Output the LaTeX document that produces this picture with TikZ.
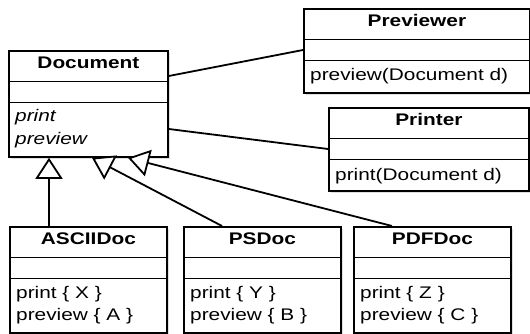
\documentclass[tikz,border=0pt]{standalone}
\usepackage{fontspec}
\setmainfont{Liberation Sans}[FakeStretch=1.24]
\usetikzlibrary{arrows.meta,calc,shadows}
\begin{document}
\begin{tikzpicture}[x=1pt,y=-1pt,
  umlbox/.style={draw=black, fill=white, line width=1.8pt, inner sep=0pt, anchor=north west,
    drop shadow={opacity=0.25, shadow xshift=2.5pt, shadow yshift=-2.5pt}},
  cname/.style={font=\fontsize{16.8}{23}\selectfont\bfseries, anchor=base, inner sep=0pt},
  mtext/.style={font=\fontsize{16.8}{23}\selectfont, anchor=base west, inner sep=0pt},
  sep/.style={line width=1.8pt},
  assoc/.style={line width=1.8pt},
  inherit/.style={line width=1.8pt, -{Triangle[length=21pt,width=27pt,fill=white]}}
]
\useasboundingbox (0,0) rectangle (530,334);

% Document
\node[umlbox, minimum width=159pt, minimum height=106pt] (doc) at (8,50) {};
\draw[sep] ($(doc.north west)+(0,31.5)$) -- ($(doc.north east)+(0,31.5)$);
\draw[sep] ($(doc.north west)+(0,52.5)$) -- ($(doc.north east)+(0,52.5)$);
\node[cname] (docname) at ($(doc.north)+(0,18.5)$) {Document};
\node[mtext] (docm1) at ($(doc.north west)+(7,72)$) {\itshape print};
\node[mtext] (docm2) at ($(doc.north west)+(7,94.5)$) {\itshape preview};

% Previewer
\node[umlbox, minimum width=226pt, minimum height=84pt] (prev) at (303,8) {};
\draw[sep] ($(prev.north west)+(0,31.5)$) -- ($(prev.north east)+(0,31.5)$);
\draw[sep] ($(prev.north west)+(0,52.5)$) -- ($(prev.north east)+(0,52.5)$);
\node[cname] (prevname) at ($(prev.north)+(0,18.5)$) {Previewer};
\node[mtext] (prevm1) at ($(prev.north west)+(7,73)$) {preview(Document d)};

% Printer
\node[umlbox, minimum width=200pt, minimum height=83pt] (prn) at (328,107) {};
\draw[sep] ($(prn.north west)+(0,31.5)$) -- ($(prn.north east)+(0,31.5)$);
\draw[sep] ($(prn.north west)+(0,52.5)$) -- ($(prn.north east)+(0,52.5)$);
\node[cname] (prnname) at ($(prn.north)+(0,18.5)$) {Printer};
\node[mtext] (prnm1) at ($(prn.north west)+(7,73.5)$) {print(Document d)};

% ASCIIDoc
\node[umlbox, minimum width=157pt, minimum height=106pt] (ascii) at (9,226) {};
\draw[sep] ($(ascii.north west)+(0,31.5)$) -- ($(ascii.north east)+(0,31.5)$);
\draw[sep] ($(ascii.north west)+(0,52.5)$) -- ($(ascii.north east)+(0,52.5)$);
\node[cname] (asciiname) at ($(ascii.north)+(0,18.5)$) {ASCIIDoc};
\node[mtext] (asciim1) at ($(ascii.north west)+(7,72)$) {print \{ X \}};
\node[mtext] (asciim2) at ($(ascii.north west)+(7,94.5)$) {preview \{ A \}};

% PSDoc
\node[umlbox, minimum width=157pt, minimum height=106pt] (ps) at (183,226) {};
\draw[sep] ($(ps.north west)+(0,31.5)$) -- ($(ps.north east)+(0,31.5)$);
\draw[sep] ($(ps.north west)+(0,52.5)$) -- ($(ps.north east)+(0,52.5)$);
\node[cname] (psname) at ($(ps.north)+(0,18.5)$) {PSDoc};
\node[mtext] (psm1) at ($(ps.north west)+(7,72)$) {print \{ Y \}};
\node[mtext] (psm2) at ($(ps.north west)+(7,94.5)$) {preview \{ B \}};

% PDFDoc
\node[umlbox, minimum width=157pt, minimum height=106pt] (pdf) at (353,226) {};
\draw[sep] ($(pdf.north west)+(0,31.5)$) -- ($(pdf.north east)+(0,31.5)$);
\draw[sep] ($(pdf.north west)+(0,52.5)$) -- ($(pdf.north east)+(0,52.5)$);
\node[cname] (pdfname) at ($(pdf.north)+(0,18.5)$) {PDFDoc};
\node[mtext] (pdfm1) at ($(pdf.north west)+(7,72)$) {print \{ Z \}};
\node[mtext] (pdfm2) at ($(pdf.north west)+(7,94.5)$) {preview \{ C \}};

% connector end points
\coordinate (docR1) at ($(doc.north east)+(0,26)$);
\coordinate (docR2) at ($(doc.north east)+(0,79)$);
\coordinate (prevL) at ($(prev.north west)+(0,42)$);
\coordinate (prnL) at ($(prn.north west)+(0,42)$);
\coordinate (asciiTop) at ($(ascii.north west)+(40,0)$);
\coordinate (psTop) at ($(ps.north west)+(39,0)$);
\coordinate (pdfTop) at ($(pdf.north west)+(39,0)$);
\coordinate (psTip) at ($(doc.south west)+(84,0)$);
\coordinate (pdfTip) at ($(doc.south west)+(120,0)$);

% associations
\draw[assoc] (docR1) -- (prevL);
\draw[assoc] (docR2) -- (prnL);

% generalizations
\draw[inherit] (asciiTop) -- (asciiTop |- doc.south);
\draw[inherit] (psTop) -- (psTip);
\draw[inherit] (pdfTop) -- (pdfTip);
\end{tikzpicture}
\end{document}
